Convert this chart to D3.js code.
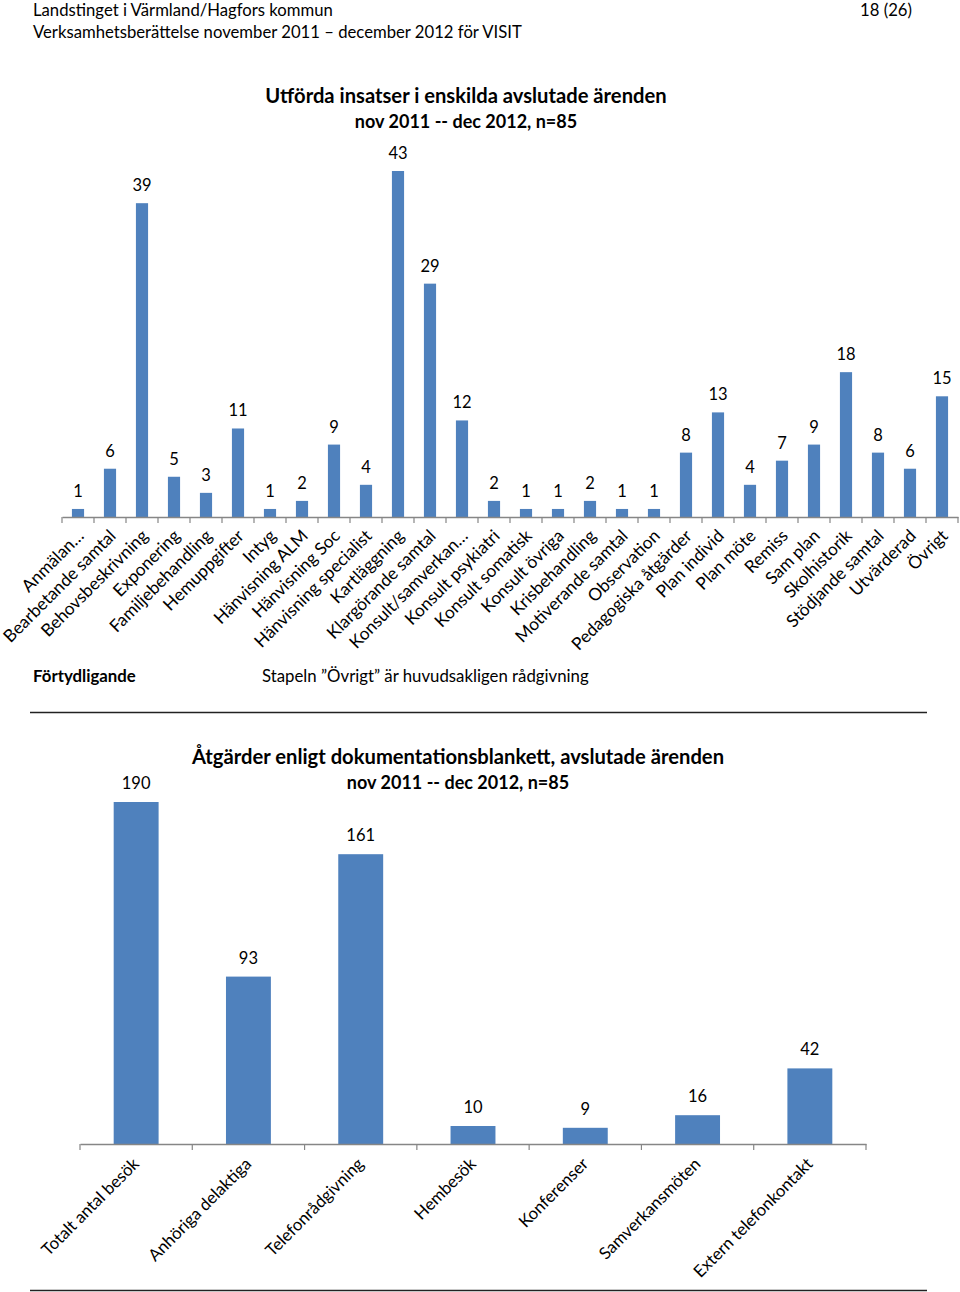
<!DOCTYPE html>
<html><head><meta charset="utf-8">
<script src="https://cdn.jsdelivr.net/npm/d3@7"></script>
<style>body{margin:0;background:#fff}svg{display:block}text{font-family:Lato,"Open Sans",sans-serif;fill:#000}</style>
</head><body>
<svg id="c" width="960" height="1292"></svg>
<script>
const categories1 = ["Anmälan…","Bearbetande samtal","Behovsbeskrivning","Exponering","Familjebehandling","Hemuppgifter","Intyg","Hänvisning ALM","Hänvisning Soc","Hänvisning specialist","Kartläggning","Klargörande samtal","Konsult/samverkan…","Konsult psykiatri","Konsult somatisk","Konsult övriga","Krisbehandling","Motiverande samtal","Observation","Pedagogiska åtgärder","Plan individ","Plan möte","Remiss","Sam plan","Skolhistorik","Stödjande samtal","Utvärderad","Övrigt"];
const values1 = [1,6,39,5,3,11,1,2,9,4,43,29,12,2,1,1,2,1,1,8,13,4,7,9,18,8,6,15];
const categories2 = ["Totalt antal besök","Anhöriga delaktiga","Telefonrådgivning","Hembesök","Konferenser","Samverkansmöten","Extern telefonkontakt"];
const values2 = [190,93,161,10,9,16,42];
const headerLines = ["Landstinget i Värmland/Hagfors kommun","Verksamhetsberättelse november 2011 – december 2012 för VISIT"];
const pageNo = "18 (26)";
const title1 = ["Utförda insatser i enskilda avslutade ärenden","nov 2011 -- dec 2012, n=85"];
const title2 = ["Åtgärder enligt dokumentationsblankett, avslutade ärenden","nov 2011 -- dec 2012, n=85"];
const noteLabel = "Förtydligande";
const noteText = "Stapeln ”Övrigt” är huvudsakligen rådgivning";

const BAR = "#4F81BD", AXIS = "#868686";
const svg = d3.select("#c");

// header
svg.append("text").attr("x",33).attr("y",16).attr("font-size",16.7).text(headerLines[0]);
svg.append("text").attr("x",33).attr("y",38).attr("font-size",16.7).text(headerLines[1]);
svg.append("text").attr("x",912).attr("y",16).attr("font-size",16.7).attr("text-anchor","end").text(pageNo);

function chart(cfg){
  const g = svg.append("g");
  const x = d3.scaleBand().domain(cfg.cats).range(cfg.xr).paddingInner(cfg.pad).paddingOuter(cfg.pad/2);
  const y = d3.scaleLinear().domain([0,cfg.max]).range([cfg.base, cfg.top]);
  g.selectAll("rect").data(cfg.vals).join("rect")
    .attr("x",(d,i)=>x(cfg.cats[i])).attr("width",x.bandwidth())
    .attr("y",d=>y(d)).attr("height",d=>y(0)-y(d)).attr("fill",BAR);
  g.selectAll("text.v").data(cfg.vals).join("text").attr("class","v")
    .attr("x",(d,i)=>x(cfg.cats[i])+x.bandwidth()/2).attr("y",d=>y(d)-cfg.lblOff)
    .attr("text-anchor","middle").attr("font-size",cfg.vfs).text(d=>d);
  // axis
  const ax = d3.axisBottom(x).tickSize(0).tickFormat("");
  const axg = g.append("g").attr("transform",`translate(0,${cfg.base})`).call(ax);
  axg.select(".domain").attr("stroke",AXIS).attr("stroke-width",1.5);
  const step = x.step();
  const bounds = d3.range(cfg.cats.length+1).map(i=>cfg.xr[0]+i*step);
  g.selectAll("line.t").data(bounds).join("line").attr("class","t")
    .attr("x1",d=>d).attr("x2",d=>d).attr("y1",cfg.base).attr("y2",cfg.base+6)
    .attr("stroke",AXIS).attr("stroke-width",1.2);
  g.selectAll("text.c").data(cfg.cats).join("text").attr("class","c")
    .attr("transform",d=>`translate(${x(d)+x.bandwidth()/2+cfg.lx},${cfg.base+cfg.ly}) rotate(-45)`)
    .attr("text-anchor","end").attr("font-size",cfg.cfs).text(d=>d);
  // titles
  svg.append("text").attr("x",cfg.tx).attr("y",cfg.ty).attr("text-anchor","middle")
    .attr("font-size",20.2).attr("font-weight","bold").text(cfg.title[0]);
  svg.append("text").attr("x",cfg.tx).attr("y",cfg.ty+25).attr("text-anchor","middle")
    .attr("font-size",18).attr("font-weight","bold").text(cfg.title[1]);
}

chart({cats:categories1, vals:values1, xr:[62,958], pad:0.62, max:43, base:517, top:171,
  lblOff:12, vfs:16.5, cfs:17.3, lx:7, ly:20, title:title1, tx:466, ty:103});
chart({cats:categories2, vals:values2, xr:[80,866], pad:0.6, max:190, base:1144, top:802,
  lblOff:13, vfs:16.5, cfs:16.8, lx:4, ly:21, title:title2, tx:458, ty:764});

svg.append("text").attr("x",33).attr("y",682).attr("font-size",16.8).attr("font-weight","bold").text(noteLabel);
svg.append("text").attr("x",262).attr("y",682).attr("font-size",16.8).text(noteText);
svg.append("line").attr("x1",30).attr("x2",927).attr("y1",712.5).attr("y2",712.5).attr("stroke","#222").attr("stroke-width",1.3);
svg.append("line").attr("x1",30).attr("x2",927).attr("y1",1290.5).attr("y2",1290.5).attr("stroke","#222").attr("stroke-width",1.3);
</script>
</body></html>
